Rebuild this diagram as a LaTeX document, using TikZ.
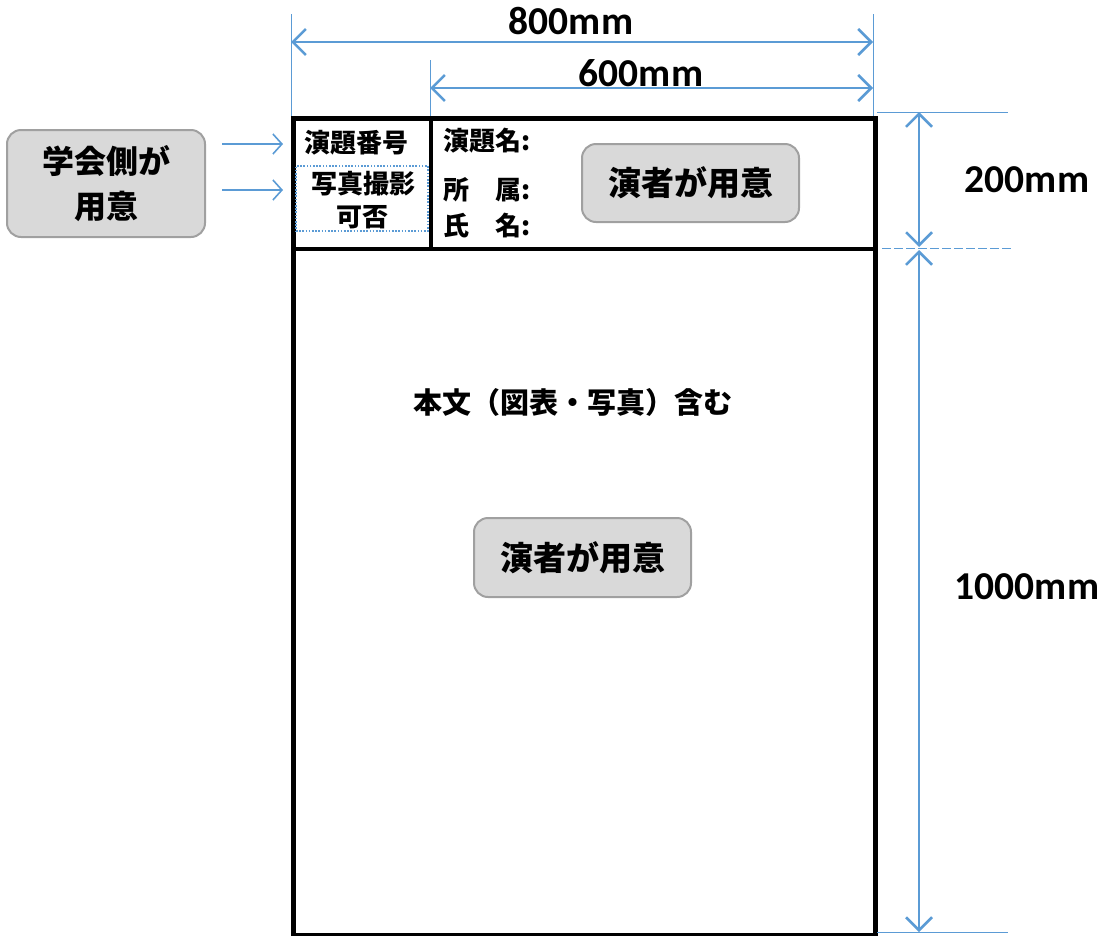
\documentclass[tikz,border=0pt]{standalone}
\usepackage{fontspec}
\newfontfamily\jp{Noto Sans CJK JP}
\newfontfamily\lat{Carlito}
\usetikzlibrary{arrows.meta}
\definecolor{dimblue}{RGB}{91,155,213}
\definecolor{boxgray}{RGB}{217,217,217}
\definecolor{boxedge}{RGB}{160,160,160}
\begin{document}
\begin{tikzpicture}[x=1pt,y=-1pt,
  dimline/.style={draw=dimblue, line width=2.5pt,
    {Straight Barb[length=13pt,width=26pt,line width=2.5pt]}-{Straight Barb[length=13pt,width=26pt,line width=2.5pt]}},
  extline/.style={draw=dimblue, line width=1pt},
  pointer/.style={draw=dimblue, line width=1.6pt, -{Straight Barb[length=9pt,width=20pt,line width=1.6pt]}},
  prepbox/.style={rounded corners=14pt, fill=boxgray, draw=boxedge, line width=2pt,
    font=\jp\bfseries\fontsize{33}{38}\selectfont, align=center, inner sep=0pt},
  jlabel/.style={font=\jp\bfseries\fontsize{26}{30}\selectfont, inner sep=0pt},
  dimlabel/.style={font=\lat\bfseries\fontsize{39.5}{44}\selectfont, inner sep=0pt},
  frameline/.style={draw=black, line width=4.5pt}
]
\useasboundingbox (0,0) rectangle (1108,935);

% main frame
\node[frameline, minimum width=582pt, minimum height=817pt, inner sep=0pt, anchor=north west] (frame) at (291,116) {};
\coordinate (hl) at (291,249);
\coordinate (hr) at (873,249);
\draw[frameline] (hl) -- (hr);
\coordinate (vt) at (431,116);
\coordinate (vb) at (431,249);
\draw[frameline] (vt) -- (vb);

% dotted box
\node[draw=dimblue, line width=1.8pt, dash pattern=on 1.6pt off 1.6pt, minimum width=132pt, minimum height=65pt, inner sep=0pt, anchor=north west] (photo) at (295,165) {};

% header texts
\node[jlabel] (num) at (356.5,143) {演題番号};
\node[jlabel] (photot1) at (363,184) {写真撮影};
\node[jlabel] (photot2) at (362,217) {可否};
\node[jlabel, anchor=west] (title) at (443,141) {演題名:};
\node[jlabel, anchor=west] (affil) at (443,190) {所　属:};
\node[jlabel, anchor=west] (name) at (443,226) {氏　名:};

% prepared boxes
\node[prepbox, minimum width=217pt, minimum height=78pt] (prep1) at (690.5,183) {演者が用意};
\node[prepbox, minimum width=217pt, minimum height=79pt] (prep2) at (582.5,557.5) {演者が用意};
\node[prepbox, minimum width=198pt, minimum height=107pt, font=\jp\bfseries\fontsize{32}{45}\selectfont] (society) at (106,183.5) {学会側が\\用意};

% body text
\node[jlabel, font=\jp\bfseries\fontsize{29}{32}\selectfont] (body) at (573,402) {本文（図表・写真）含む};

% pointer arrows
\coordinate (p1s) at (222,144);
\coordinate (p1e) at (283,144);
\coordinate (p2s) at (222,190);
\coordinate (p2e) at (283,190);
\draw[pointer] (p1s) -- (p1e);
\draw[pointer] (p2s) -- (p2e);

% extension lines
\coordinate (e1t) at (291,14);  \coordinate (e1b) at (291,116);
\coordinate (e2t) at (873,14);  \coordinate (e2b) at (873,116);
\coordinate (e3t) at (430,60);  \coordinate (e3b) at (430,116);
\draw[extline] (e1t) -- (e1b);
\draw[extline] (e2t) -- (e2b);
\draw[extline] (e3t) -- (e3b);
\coordinate (h1l) at (877,112); \coordinate (h1r) at (1008,112);
\coordinate (h2l) at (882,248); \coordinate (h2r) at (1012,248);
\coordinate (h3l) at (877,932); \coordinate (h3r) at (1008,932);
\draw[extline] (h1l) -- (h1r);
\draw[extline, dash pattern=on 9pt off 3pt] (h2l) -- (h2r);
\draw[extline] (h3l) -- (h3r);

% dimension arrows
\coordinate (d800l) at (291,42); \coordinate (d800r) at (873,42);
\coordinate (d600l) at (430,88); \coordinate (d600r) at (873,88);
\coordinate (d200t) at (919,112); \coordinate (d200b) at (919,247);
\coordinate (d1000t) at (919,250); \coordinate (d1000b) at (919,932);
\draw[dimline] (d800l) -- (d800r);
\draw[dimline] (d600l) -- (d600r);
\draw[dimline] (d200t) -- (d200b);
\draw[dimline] (d1000t) -- (d1000b);

\node[dimlabel] (t800) at (571,21) {800mm};
\node[dimlabel] (t600) at (641,73) {600mm};
\node[dimlabel] (t200) at (1027,180) {200mm};
\node[dimlabel] (t1000) at (1027,587) {1000mm};
\end{tikzpicture}
\end{document}
